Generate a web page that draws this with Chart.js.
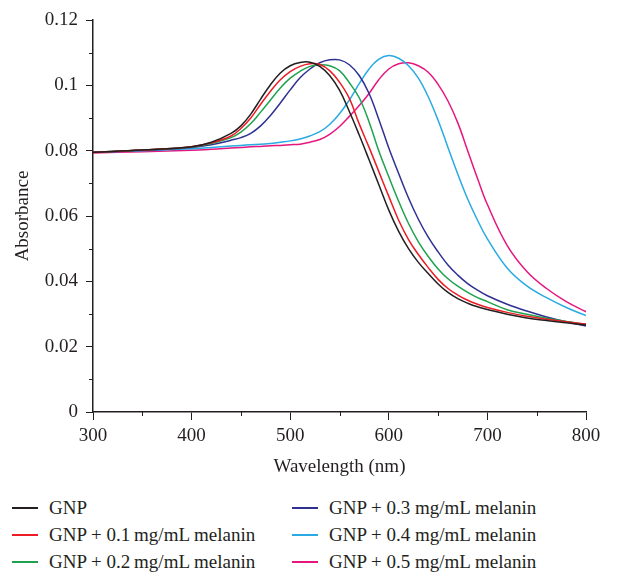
<!DOCTYPE html>
<html>
<head>
<meta charset="utf-8">
<title>Absorbance spectra</title>
<script src="https://cdn.jsdelivr.net/npm/chart.js@4/dist/chart.umd.min.js"></script>
<style>
  body { margin: 0; background: #fff; }
  #wrap { position: relative; width: 637px; height: 574px; }
  #legend { position: absolute; left: 0; top: 495px; width: 637px; font-family: "Liberation Serif", "DejaVu Serif", serif; font-size: 19px; color: #231f20; }
  .item { position: absolute; height: 26px; line-height: 26px; white-space: nowrap; }
  .item .swatch { position: absolute; left: 0; top: 12px; width: 26px; height: 2px; }
  .item .label { position: absolute; left: 37px; top: 0; }
</style>
</head>
<body>
<div id="wrap">
  <canvas id="chart" width="637" height="480"></canvas>
  <div id="legend"></div>
</div>
<script>
// wavelength (nm) shared by all series
const wavelengths = [300, 350, 400, 420, 440, 450, 460, 470, 480, 490, 500, 510, 520, 530, 540, 550, 560, 570,
  580, 590, 600, 610, 620, 630, 640, 650, 660, 670, 680, 690, 700, 720, 740, 760, 780, 800];

const gnp = [0.0795, 0.0802, 0.0812, 0.0826, 0.0853, 0.0876, 0.0912, 0.0958, 0.1002, 0.1038, 0.1060, 0.1070,
  0.1071, 0.1058, 0.1030, 0.0985, 0.0920, 0.0848, 0.0772, 0.0695, 0.0618, 0.0553, 0.0500, 0.0458, 0.0424,
  0.0392, 0.0366, 0.0347, 0.0333, 0.0322, 0.0314, 0.0299, 0.0288, 0.0280, 0.0273, 0.0266];
const mel01 = [0.0795, 0.0802, 0.0812, 0.0824, 0.0845, 0.0868, 0.0900, 0.0942, 0.0982, 0.1017, 0.1042, 0.1058,
  0.1066, 0.1064, 0.1045, 0.1010, 0.0960, 0.0882, 0.0810, 0.0735, 0.0660, 0.0587, 0.0528, 0.0482, 0.0442,
  0.0406, 0.0378, 0.0358, 0.0342, 0.0330, 0.0320, 0.0305, 0.0293, 0.0284, 0.0276, 0.0269];
const mel02 = [0.0795, 0.0802, 0.0811, 0.0822, 0.0840, 0.0857, 0.0883, 0.0918, 0.0955, 0.0992, 0.1022, 0.1043,
  0.1058, 0.1063, 0.1060, 0.1045, 0.1008, 0.0962, 0.0888, 0.0798, 0.0720, 0.0645, 0.0577, 0.0521, 0.0476,
  0.0438, 0.0408, 0.0385, 0.0366, 0.0350, 0.0338, 0.0313, 0.0299, 0.0287, 0.0277, 0.0268];
const mel03 = [0.0795, 0.0801, 0.0810, 0.0818, 0.0832, 0.0840, 0.0853, 0.0876, 0.0908, 0.0946, 0.0986, 0.1023,
  0.1050, 0.1069, 0.1078, 0.1078, 0.1063, 0.1030, 0.0975, 0.0895, 0.0808, 0.0730, 0.0655, 0.0590, 0.0535,
  0.0490, 0.0450, 0.0419, 0.0393, 0.0373, 0.0356, 0.0330, 0.0309, 0.0291, 0.0276, 0.0263];
const mel04 = [0.0795, 0.0800, 0.0806, 0.0810, 0.0814, 0.0816, 0.0818, 0.0820, 0.0822, 0.0826, 0.0830, 0.0836,
  0.0845, 0.0858, 0.0880, 0.0913, 0.0955, 0.1005, 0.1050, 0.1080, 0.1091, 0.1083, 0.1060, 0.1022, 0.0965,
  0.0893, 0.0810, 0.0728, 0.0652, 0.0587, 0.0530, 0.0441, 0.0386, 0.0350, 0.0320, 0.0295];
const mel05 = [0.0793, 0.0797, 0.0801, 0.0804, 0.0808, 0.0810, 0.0812, 0.0813, 0.0815, 0.0816, 0.0818, 0.0820,
  0.0826, 0.0834, 0.0850, 0.0874, 0.0905, 0.0938, 0.0975, 0.1018, 0.1050, 0.1066, 0.1069, 0.1060, 0.1040,
  0.1003, 0.0952, 0.0885, 0.0800, 0.0715, 0.0635, 0.0510, 0.0430, 0.0378, 0.0338, 0.0307];

const seriesNames = ["GNP", "GNP + 0.1\u2009mg/mL melanin", "GNP + 0.2\u2009mg/mL melanin",
  "GNP + 0.3 mg/mL melanin", "GNP + 0.4 mg/mL melanin", "GNP + 0.5 mg/mL melanin"];
const seriesColors = ["#231f20", "#ed1c24", "#1fa24f", "#2e3192", "#29aae2", "#e5177f"];
const seriesData = [gnp, mel01, mel02, mel03, mel04, mel05];

const xTicks = [300, 400, 500, 600, 700, 800];
const yTicks = [0, 0.02, 0.04, 0.06, 0.08, 0.1, 0.12];

const SERIF = '"Liberation Serif", "DejaVu Serif", serif';
const INK = "#231f20";

/* minor tick marks between the labelled ones */
const minorTicks = {
  id: "minorTicks",
  afterDraw(chart) {
    const { ctx, chartArea, scales } = chart;
    ctx.save();
    ctx.strokeStyle = INK;
    ctx.lineWidth = 1;
    for (let i = 0; i < xTicks.length - 1; i++) {
      const px = Math.round(scales.x.getPixelForValue((xTicks[i] + xTicks[i + 1]) / 2)) + 0.5;
      ctx.beginPath();
      ctx.moveTo(px, chartArea.bottom);
      ctx.lineTo(px, chartArea.bottom + 4);
      ctx.stroke();
    }
    for (let i = 0; i < yTicks.length - 1; i++) {
      const py = Math.round(scales.y.getPixelForValue((yTicks[i] + yTicks[i + 1]) / 2)) + 0.5;
      ctx.beginPath();
      ctx.moveTo(chartArea.left - 4, py);
      ctx.lineTo(chartArea.left, py);
      ctx.stroke();
    }
    ctx.restore();
  }
};

const datasets = seriesData.map((vals, i) => ({
  label: seriesNames[i],
  data: vals.map((v, j) => ({ x: wavelengths[j], y: v })),
  borderColor: seriesColors[i],
  backgroundColor: seriesColors[i],
  borderWidth: 1.5,
  pointRadius: 0,
  tension: 0.4,
  fill: false
}));

new Chart(document.getElementById("chart"), {
  type: "line",
  data: { datasets },
  options: {
    responsive: false,
    devicePixelRatio: 1,
    animation: false,
    layout: { padding: { top: 20, right: 51, bottom: 0, left: 0 } },
    plugins: { legend: { display: false }, tooltip: { enabled: false } },
    scales: {
      x: {
        type: "linear",
        min: 300,
        max: 800,
        afterFit: s => { s.height = 68; },
        afterBuildTicks: s => { s.ticks = xTicks.map(v => ({ value: v })); },
        ticks: { color: INK, padding: 5, font: { family: SERIF, size: 19 }, maxRotation: 0 },
        grid: { drawOnChartArea: false, color: INK, tickLength: 8, lineWidth: 1 },
        border: { color: INK, width: 1.5 },
        title: { display: true, text: "Wavelength (nm)", color: INK, font: { family: SERIF, size: 19 }, padding: { top: 0, bottom: 2 } }
      },
      y: {
        min: 0,
        max: 0.12,
        afterFit: s => { s.width = 93; },
        afterBuildTicks: s => { s.ticks = yTicks.map(v => ({ value: v })); },
        ticks: { color: INK, padding: 8, font: { family: SERIF, size: 19 }, callback: v => String(parseFloat(v.toFixed(2))) },
        grid: { drawOnChartArea: false, color: INK, tickLength: 7, lineWidth: 1 },
        border: { color: INK, width: 1.5 },
        title: { display: true, text: "Absorbance", color: INK, font: { family: SERIF, size: 19 }, padding: { top: 12, bottom: 0 } }
      }
    }
  },
  plugins: [minorTicks]
});

/* two-column legend under the plot */
const legendEl = document.getElementById("legend");
const colLeft = [12, 292];
seriesNames.forEach((name, i) => {
  const col = Math.floor(i / 3);
  const row = i % 3;
  const item = document.createElement("div");
  item.className = "item";
  item.style.left = colLeft[col] + "px";
  item.style.top = (row * 27) + "px";
  const swatch = document.createElement("span");
  swatch.className = "swatch";
  swatch.style.background = seriesColors[i];
  const label = document.createElement("span");
  label.className = "label";
  label.textContent = name;
  item.appendChild(swatch);
  item.appendChild(label);
  legendEl.appendChild(item);
});
</script>
</body>
</html>
